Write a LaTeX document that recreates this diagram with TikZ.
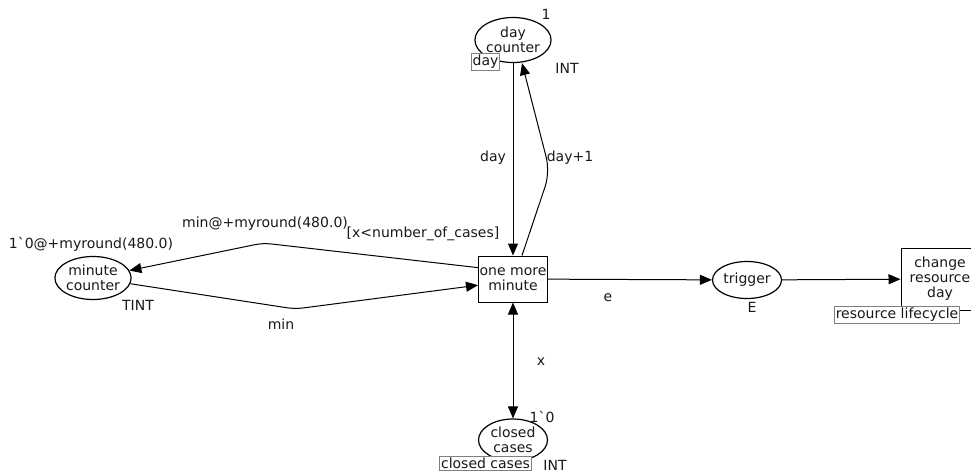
\documentclass[tikz,border=0pt]{standalone}
\usepackage{fontspec}
\setmainfont{DejaVu Sans}[Ligatures=TeXOff]
\usetikzlibrary{arrows.meta, shapes.geometric, calc}

\begin{document}
\begin{tikzpicture}[
    x=1pt, y=-1pt,
    every node/.style={font=\fontsize{14}{15}\selectfont, text=black!90},
    place/.style={draw, ellipse, line width=1.2pt, minimum width=69pt, minimum height=45pt, inner sep=0pt, align=center},
    trans/.style={draw, rectangle, line width=1pt, minimum width=69pt, minimum height=46pt, inner sep=1pt, align=center},
    arc/.style={-{Triangle[length=12pt, width=10pt]}, line width=1pt},
    biarc/.style={{Triangle[length=12pt, width=10pt]}-{Triangle[length=12pt, width=10pt]}, line width=1pt},
    inscr/.style={inner sep=1pt},
    fusion/.style={draw=gray, fill=white, line width=1pt, inner sep=1.5pt, minimum height=14pt}
]
    \useasboundingbox (0,0) rectangle (971,475);
    \clip (0,0) rectangle (971,475);

    % --- Places and transitions ---
    \node[place] (dc) at (513,40) {day\\counter};
    \node[trans] (omm) at (513,279) {one more\\minute};
    \node[place, minimum height=43pt] (mc) at (93,278) {minute\\counter};
    \node[place, minimum height=37pt] (trig) at (747,280) {trigger};
    \node[trans, minimum width=78pt, minimum height=62pt] (crd) at (940,279) {change\\resource\\day};
    \node[place, minimum height=42pt] (cc) at (513,440) {closed\\cases};

    % --- Bend points ---
    \coordinate (upbend) at (263,243);
    \coordinate (lowbend) at (295,309);
    \coordinate (daybend) at (550,172);

    % --- Arcs ---
    \draw[arc, rounded corners=8pt] (omm.162) -- (upbend) -- (mc);
    \draw[arc, rounded corners=8pt] (mc) -- (lowbend) -- (omm.190);
    \draw[arc] (dc) -- (omm);
    \draw[arc, rounded corners=15pt] ([xshift=9pt]omm.north) -- (daybend) -- ([xshift=9pt]dc.south);
    \draw[biarc] (omm) -- (cc);
    \draw[arc] (omm) -- (trig);
    \draw[arc] (trig) -- (crd);

    % --- Fusion tags ---
    \node[fusion] (dctag) at (485.5,62) {day};
    \node[fusion] (cctag) at (485.5,463) {closed cases};
    \node[fusion] (crdtag) at (897,315) {resource lifecycle};

    % --- Inscriptions ---
    \node[inscr] at (546,14) {1};
    \node[inscr] at (567,68) {INT};
    \node[inscr] at (91,244) {1`0@+myround(480.0)};
    \node[inscr] at (138,305) {TINT};
    \node[inscr] at (265,224) {min@+myround(480.0)};
    \node[inscr] at (423,234) {[x<number\_of\_cases]};
    \node[inscr] at (281,324) {min};
    \node[inscr] at (493,158) {day};
    \node[inscr] at (570,158) {day+1};
    \node[inscr] at (608,298) {e};
    \node[inscr] at (752,307) {E};
    \node[inscr] at (542,417) {1`0};
    \node[inscr] at (555,465) {INT};
    \node[inscr] at (541,362) {x};
\end{tikzpicture}
\end{document}
